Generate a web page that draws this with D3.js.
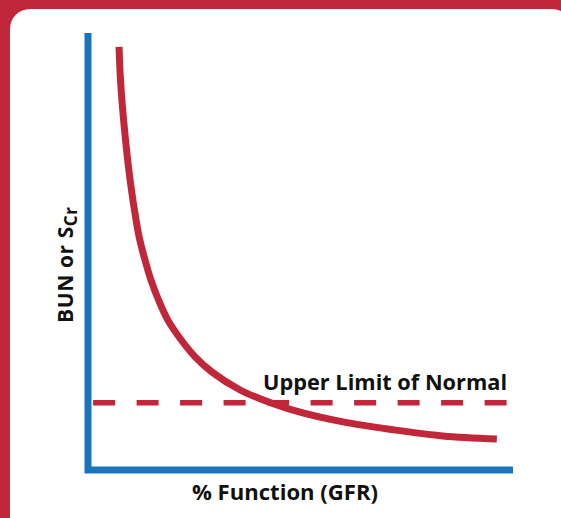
<!DOCTYPE html>
<html>
<head>
<meta charset="utf-8">
<script src="https://cdn.jsdelivr.net/npm/d3@7"></script>
<style>
  html, body { margin: 0; padding: 0; background: #C1273B; }
  svg { display: block; }
  text { font-family: "Open Sans", "Noto Sans", sans-serif; font-weight: 700; fill: #111; }
</style>
</head>
<body>
<svg id="chart" width="561" height="518"></svg>
<script>
// ---- data ----
const gfrPct  = [7.3, 7.65, 8.6, 9.9, 11.5, 12.2, 13.4, 14.8, 16.6, 18.8, 21.9, 25.2, 29.2, 35.8, 40.5, 48.2, 60.0, 71.8, 83.5, 96.2];
const bunScr  = [96.8, 89.2, 77.8, 66.4, 56.1, 52.6, 48.1, 43.5, 38.9, 34.3, 29.8, 25.9, 22.4, 18.3, 16.3, 13.7, 11.0, 9.2, 7.8, 7.1];
const upperLimitValue = [15.4];
const upperLimitSpan  = [1.2, 98.6];
const xLabel = "% Function (GFR)";
const yLabelMain = "BUN or S";
const yLabelSub = "Cr";
const refLabel = "Upper Limit of Normal";

// ---- styling ----
const RED = "#C1273B";
const BLUE = "#1B75BB";

const svg = d3.select("#chart");

// background card
svg.append("rect").attr("x", 0).attr("y", 0).attr("width", 561).attr("height", 518).attr("fill", RED);
svg.append("rect").attr("x", 10).attr("y", 9).attr("width", 562).attr("height", 560)
   .attr("rx", 20).attr("ry", 20).attr("fill", "#fff");

const x = d3.scaleLinear().domain([0, 100]).range([88, 513]);
const y = d3.scaleLinear().domain([0, 100]).range([470, 33]);

// axes (plain lines, no ticks)
svg.append("path")
  .attr("d", d3.line()([[x(0), y(100)], [x(0), y(0)], [x(100), y(0)]]))
  .attr("fill", "none").attr("stroke", BLUE).attr("stroke-width", 7)
  .attr("stroke-linejoin", "miter").attr("stroke-linecap", "butt");

// upper limit of normal dashed line
svg.append("line")
  .attr("x1", x(upperLimitSpan[0])).attr("x2", x(upperLimitSpan[1]))
  .attr("y1", y(upperLimitValue[0])).attr("y2", y(upperLimitValue[0]))
  .attr("stroke", RED).attr("stroke-width", 5.5)
  .attr("stroke-dasharray", "22,21.5");

// curve
const pts = gfrPct.map((g, i) => [g, bunScr[i]]);
svg.append("path")
  .datum(pts)
  .attr("d", d3.line().x(d => x(d[0])).y(d => y(d[1])).curve(d3.curveCatmullRom.alpha(0.5)))
  .attr("fill", "none").attr("stroke", RED).attr("stroke-width", 7)
  .attr("stroke-linecap", "butt");

// reference label
svg.append("text")
  .attr("x", x(upperLimitSpan[1])).attr("y", 390)
  .attr("text-anchor", "end")
  .attr("font-size", 21)
  .attr("textLength", 244).attr("lengthAdjust", "spacingAndGlyphs")
  .text(refLabel);

// x label
svg.append("text")
  .attr("x", 285).attr("y", 500)
  .attr("text-anchor", "middle")
  .attr("font-size", 21)
  .attr("textLength", 186).attr("lengthAdjust", "spacingAndGlyphs")
  .text(xLabel);

// y label (rotated)
const yl = svg.append("text")
  .attr("transform", "translate(73,323) rotate(-90)")
  .attr("font-size", 21)
  .attr("letter-spacing", 0.6);
yl.append("tspan").text(yLabelMain);
yl.append("tspan").attr("font-size", 17).attr("dy", 4).text(yLabelSub);
</script>
</body>
</html>
